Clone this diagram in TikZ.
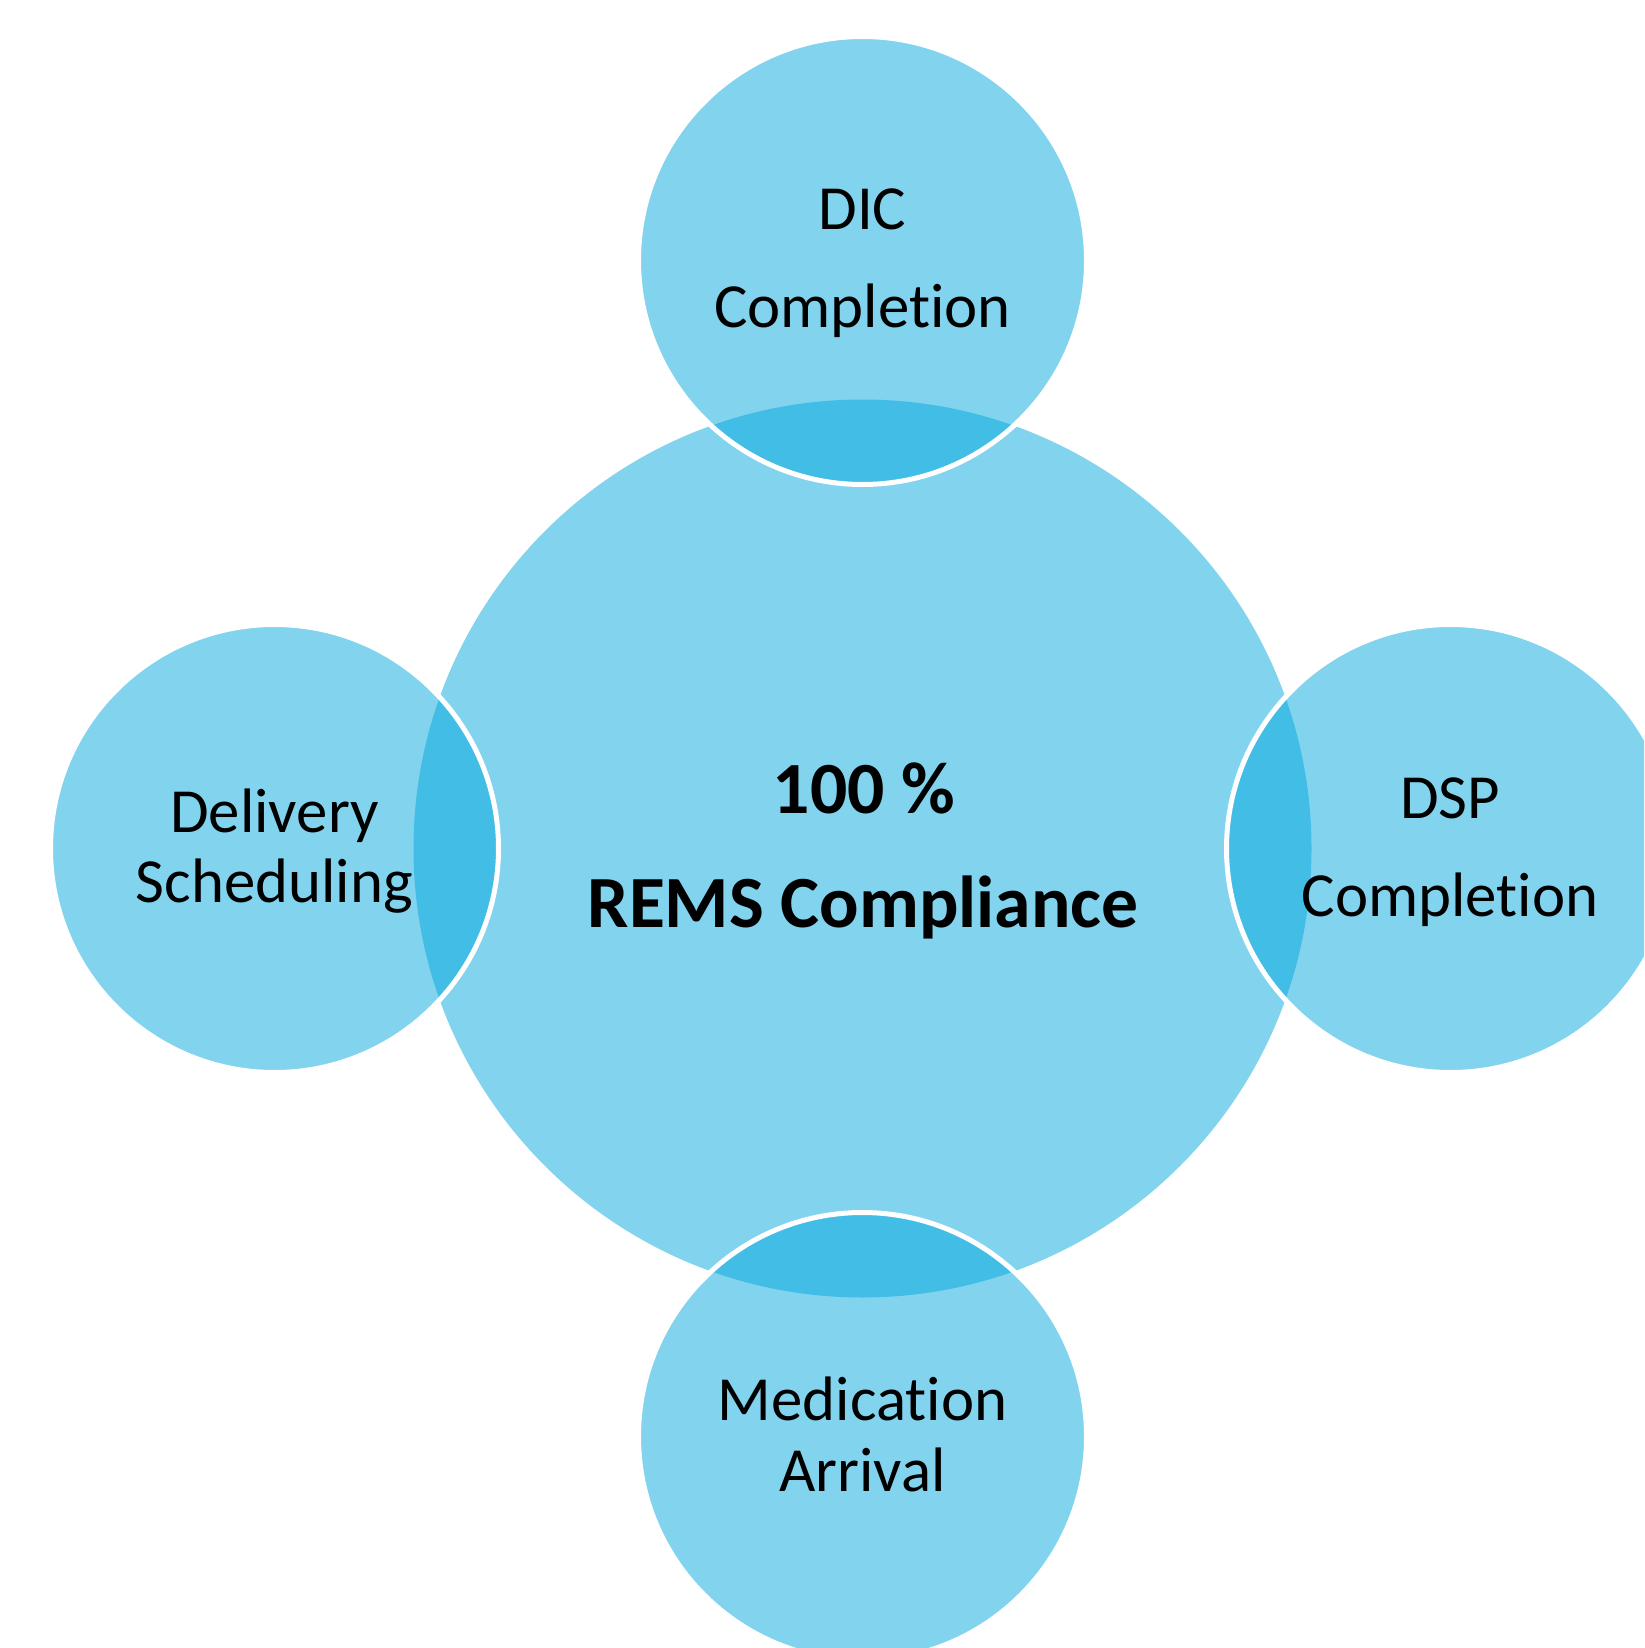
\documentclass[tikz,border=0pt]{standalone}
\usepackage{fontspec}
\setmainfont{Carlito}[Ligatures={NoCommon,NoContextual}]
\definecolor{basecol}{RGB}{4,167,222}
\begin{document}
\begin{tikzpicture}[x=0.5pt,y=-0.5pt,
  bigcirc/.style={circle,inner sep=0pt,outer sep=0pt,minimum size=449pt,fill=basecol,fill opacity=0.5,draw=none},
  satcirc/.style={circle,inner sep=0pt,outer sep=0pt,minimum size=224pt,fill=basecol,fill opacity=0.5,draw=white,draw opacity=1,line width=2.5pt},
  lbl/.style={anchor=base,inner sep=0pt,font=\fontsize{31.4pt}{37pt}\selectfont,text=black},
  blbl/.style={anchor=base,inner sep=0pt,font=\fontsize{36.8pt}{44pt}\selectfont\bfseries,text=black}]
\useasboundingbox (0,0) rectangle (1644,1648);
\clip (0,0) rectangle (1644,1648);
\node[bigcirc] (hub) at (862.5,848.5) {};
\node[satcirc] (top) at (862.5,260.5) {};
\node[satcirc] (right) at (1450.5,848.5) {};
\node[satcirc] (bottom) at (862.5,1436.5) {};
\node[satcirc] (left) at (274.5,848.5) {};
% labels
\node[blbl] (h1) at (864,813) {100 \%};
\node[blbl] (h2) at (863,927) {REMS Compliance};
\node[lbl] (t1) at (862.5,229.5) {DIC};
\node[lbl] (t2) at (862.5,327) {Completion};
\node[lbl] (r1) at (1450,818) {DSP};
\node[lbl] (r2) at (1450,916) {Completion};
\node[lbl] (b1) at (862.5,1420) {Medication};
\node[lbl] (b2) at (862.5,1491.5) {Arrival};
\node[lbl] (l1) at (274.5,832) {Delivery};
\node[lbl] (l2) at (274.5,902.5) {Scheduling};
\end{tikzpicture}
\end{document}
